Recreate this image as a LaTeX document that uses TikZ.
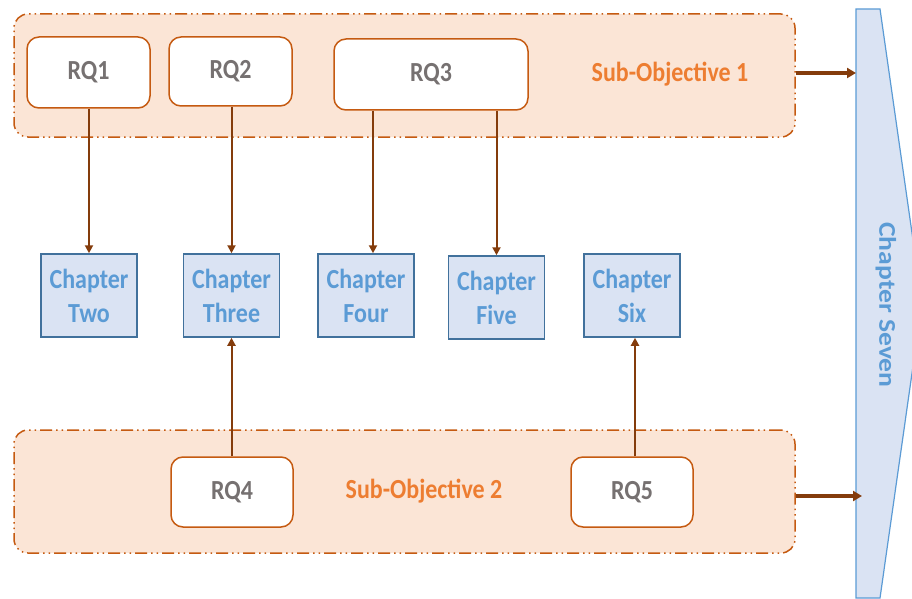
\documentclass[tikz,border=0pt]{standalone}
\usepackage{fontspec}
\setmainfont{Carlito}
\usetikzlibrary{arrows.meta}

\definecolor{objfill}{HTML}{FBE5D6}
\definecolor{objline}{HTML}{C55A11}
\definecolor{objtext}{HTML}{ED7D31}
\definecolor{rqtext}{HTML}{767171}
\definecolor{arrowbrown}{HTML}{843C0C}
\definecolor{chapfill}{HTML}{DAE3F3}
\definecolor{chapline}{HTML}{41719C}
\definecolor{chaptext}{HTML}{5B9BD5}

% letters drawn a little taller than wide
\newcommand{\tallword}[1]{\scalebox{1}[1.15]{#1}}

\tikzset{
  objective/.style={draw=objline, fill=objfill, line width=1.5pt, rounded corners=14pt,
    dash pattern=on 12pt off 4pt on 1.5pt off 4pt on 1.5pt off 4pt,
    minimum width=781pt, minimum height=123pt},
  rqbox/.style={draw=objline, fill=white, line width=1.5pt, rounded corners=12pt,
    font=\fontsize{24}{28}\selectfont\bfseries, text=rqtext,
    minimum width=123pt, minimum height=71pt},
  chapter/.style={draw=chapline, fill=chapfill, line width=1.5pt,
    font=\fontsize{24}{34}\selectfont\bfseries, text=chaptext, align=center,
    minimum width=96pt, minimum height=83pt, inner sep=0pt},
  objlabel/.style={font=\fontsize{24}{28}\selectfont\bfseries, text=objtext},
  link/.style={draw=arrowbrown, line width=2pt, -{Triangle[length=8pt,width=8pt]}},
  toseven/.style={draw=arrowbrown, line width=3.5pt, -{Triangle[length=9pt,width=10pt]}}
}

\begin{document}
\begin{tikzpicture}[x=1pt, y=-1pt]
\useasboundingbox (0,0) rectangle (912,599);
\clip (0,0) rectangle (912,599);

% final chapter: a chevron running down the right edge
\draw[draw=chaptext, fill=chapfill, line width=1.2pt]
  (856,9) -- (880,9) -- (922,303) -- (880,598) -- (856,598) -- cycle;
\node[font=\fontsize{24}{28}\selectfont\bfseries, text=chaptext, rotate=-90]
  (C7) at (886,305) {\scalebox{1.15}[1]{Chapter Seven}};
\coordinate (sevenTop) at (856,73);
\coordinate (sevenBot) at (862,496);

% sub-objective containers
\node[objective] (SO1) at (404.5,75.5) {};
\node[objective] (SO2) at (404.5,491.5) {};
\node[objlabel] (SO1L) at (670,74) {\tallword{Sub-Objective 1}};
\node[objlabel] (SO2L) at (424,491) {\tallword{Sub-Objective 2}};

% research questions
\node[rqbox] (RQ1) at (88.5,72.5) {\tallword{RQ1}};
\node[rqbox, minimum height=69pt] (RQ2) at (230.5,71.5) {\tallword{RQ2}};
\node[rqbox, minimum width=194pt] (RQ3) at (431,74.5) {\tallword{RQ3}};
\node[rqbox, minimum width=122pt, minimum height=70pt] (RQ4) at (232,492) {\tallword{RQ4}};
\node[rqbox, minimum width=122pt, minimum height=70pt] (RQ5) at (632,492) {\tallword{RQ5}};

% chapters
\node[chapter] (C2) at (89,295.5) {\tallword{Chapter}\\\tallword{Two}};
\node[chapter] (C3) at (231.5,295.5) {\tallword{Chapter}\\\tallword{Three}};
\node[chapter] (C4) at (366,295.5) {\tallword{Chapter}\\\tallword{Four}};
\node[chapter] (C5) at (496.5,297.5) {\tallword{Chapter}\\\tallword{Five}};
\node[chapter] (C6) at (632,295.5) {\tallword{Chapter}\\\tallword{Six}};

% question-to-chapter links
\draw[link] (C2.north |- RQ1.south) -- (C2.north);
\draw[link] (C3.north |- RQ2.south) -- (C3.north);
\draw[link] ([xshift=7pt]C4.north |- RQ3.south) -- ([xshift=7pt]C4.north);
\draw[link] (C5.north |- RQ3.south) -- (C5.north);
\draw[link] (C3.south |- RQ4.north) -- (C3.south);
\draw[link] ([xshift=3pt]C6.south |- RQ5.north) -- ([xshift=3pt]C6.south);

% objectives feeding the final chapter
\draw[toseven] (SO1.east |- sevenTop) -- (sevenTop);
\draw[toseven] (SO2.east |- sevenBot) -- (sevenBot);
\end{tikzpicture}
\end{document}
